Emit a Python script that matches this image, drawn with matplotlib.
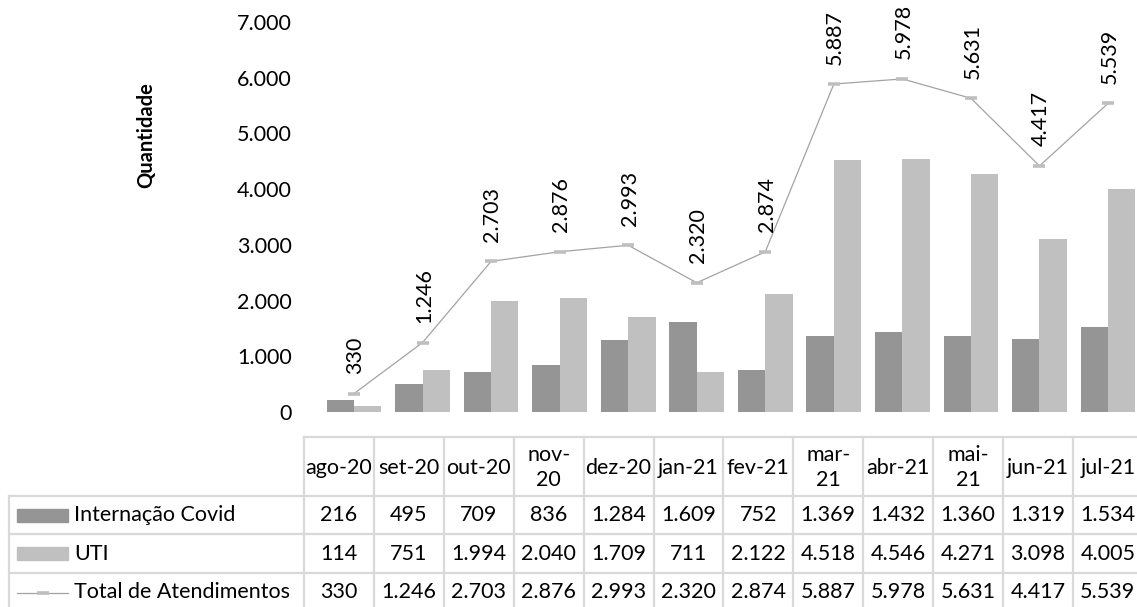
import matplotlib
matplotlib.use("Agg")
import matplotlib.pyplot as plt
import numpy as np
from matplotlib.patches import Rectangle

plt.rcParams['font.family'] = ['Lato', 'DejaVu Sans']

# ---------------- data ----------------
categories = ["ago-20", "set-20", "out-20", "nov-20", "dez-20", "jan-21",
              "fev-21", "mar-21", "abr-21", "mai-21", "jun-21", "jul-21"]
header_labels = ["ago-20", "set-20", "out-20", "nov-\n20", "dez-20", "jan-21",
                 "fev-21", "mar-\n21", "abr-21", "mai-\n21", "jun-21", "jul-21"]
internacao = [216, 495, 709, 836, 1284, 1609, 752, 1369, 1432, 1360, 1319, 1534]
uti = [114, 751, 1994, 2040, 1709, 711, 2122, 4518, 4546, 4271, 3098, 4005]
total = [330, 1246, 2703, 2876, 2993, 2320, 2874, 5887, 5978, 5631, 4417, 5539]
series_names = ["Internação Covid", "UTI", "Total de Atendimentos"]
y_ticks = [0, 1000, 2000, 3000, 4000, 5000, 6000, 7000]
y_label = "Quantidade"

C_DARK = "#959595"
C_LIGHT = "#C0C0C0"
C_LINE = "#A3A3A3"
C_MARK = "#BFBFBF"
C_GRID = "#D9D9D9"
FS = 15.5


def fmt(v):
    return f"{v:,}".replace(",", ".")


W, H = 1137, 607
fig = plt.figure(figsize=(W / 100, H / 100), dpi=100)

# ---------------- chart ----------------
left_px, right_px = 319.7, 1142.3
bot_px, top_px = 412.0, 22.0
ax = fig.add_axes([left_px / W, 1 - bot_px / H, (right_px - left_px) / W, (bot_px - top_px) / H])
x = np.arange(len(categories))
bw = 0.4
ax.bar(x - bw / 2, internacao, width=bw, color=C_DARK, zorder=2)
ax.bar(x + bw / 2, uti, width=bw, color=C_LIGHT, zorder=2)
ax.plot(x, total, color=C_LINE, lw=0.9, zorder=3)
ax.plot(x, total, ls='none', marker='_', ms=8, mew=2.6, color=C_MARK, zorder=4)
for xi, v in zip(x, total):
    ax.annotate(fmt(v), (xi, v), xytext=(1, 14), textcoords='offset points',
                rotation=90, ha='center', va='bottom', fontsize=FS, color='black')
ax.set_xlim(-0.5, len(categories) - 0.5)
ax.set_ylim(0, 7000)
ax.set_yticks(y_ticks)
ax.set_yticklabels([fmt(t) for t in y_ticks], fontsize=FS)
ax.tick_params(axis='y', length=0, pad=20)
ax.set_xticks([])
for s in ax.spines.values():
    s.set_visible(False)
ax.patch.set_alpha(0)

# ---------------- overlay (table, y label) ----------------
ov = fig.add_axes([0, 0, 1, 1])
ov.set_xlim(0, W)
ov.set_ylim(H, 0)
ov.axis('off')
ov.patch.set_alpha(0)

ov.text(146, 135, y_label, rotation=90, ha='center', va='center',
        fontsize=14.5, fontweight='bold', color='black')

col0 = 304.0
cw = 69.9
n = len(categories)
col_edges = [col0 + cw * i for i in range(n + 1)]
row_edges = [437.0, 496.0, 534.0, 573.0, 612.0]
leg_left = 9.0
lw_t = 1.6

# horizontal lines
ov.plot([col0, col_edges[-1]], [row_edges[0]] * 2, color=C_GRID, lw=lw_t)
for y in row_edges[1:]:
    ov.plot([leg_left, col_edges[-1]], [y, y], color=C_GRID, lw=lw_t)
# vertical lines
for xe in col_edges:
    ov.plot([xe, xe], [row_edges[0], row_edges[-1]], color=C_GRID, lw=lw_t)
ov.plot([leg_left, leg_left], [row_edges[1], row_edges[-1]], color=C_GRID, lw=lw_t)

# header
hy = (row_edges[0] + row_edges[1]) / 2
for i, lab in enumerate(header_labels):
    cx = (col_edges[i] + col_edges[i + 1]) / 2
    ov.text(cx, hy + 1, lab, ha='center', va='center', fontsize=FS, linespacing=1.3)

# rows
rows = [internacao, uti, total]
for r, vals in enumerate(rows):
    cy = (row_edges[r + 1] + row_edges[r + 2]) / 2
    for i, v in enumerate(vals):
        cx = (col_edges[i] + col_edges[i + 1]) / 2
        ov.text(cx, cy, fmt(v), ha='center', va='center', fontsize=FS)
    ov.text(74, cy, series_names[r], ha='left', va='center', fontsize=FS)
    if r == 0 or r == 1:
        ov.add_patch(Rectangle((17, cy - 6.5), 51, 13, color=C_DARK if r == 0 else C_LIGHT))
    else:
        ov.plot([17, 68], [cy, cy], color=C_LINE, lw=0.9)
        ov.plot([42.5], [cy], ls='none', marker='_', ms=8, mew=2.6, color=C_MARK)

fig.savefig("out.png", dpi=100)
